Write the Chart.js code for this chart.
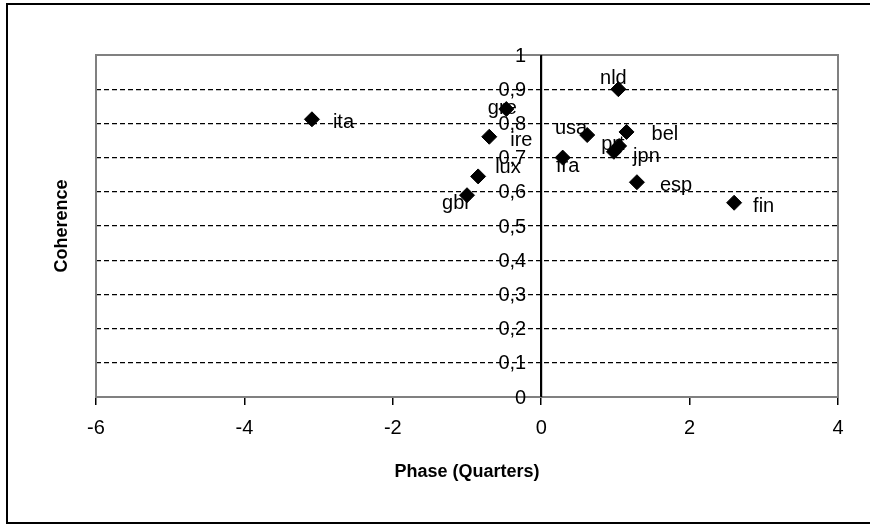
<!DOCTYPE html>
<html>
<head>
<meta charset="utf-8">
<script src="https://cdn.jsdelivr.net/npm/chart.js@4.4.1/dist/chart.umd.min.js"></script>
<style>
  body { margin: 0; background: #fff; }
  #wrap { position: relative; width: 870px; height: 524px; }
</style>
</head>
<body>
<div id="wrap"><canvas id="chart"></canvas></div>
<script>
// dados
const countries = ['ita', 'gre', 'ire', 'lux', 'gbr', 'fra', 'usa', 'nld', 'bel', 'prt', 'jpn', 'esp', 'fin'];
const phase = [-3.09, -0.47, -0.7, -0.85, -1.0, 0.29, 0.62, 1.04, 1.15, 0.98, 1.05, 1.29, 2.6];
const coherence = [0.812, 0.842, 0.761, 0.645, 0.59, 0.70, 0.766, 0.90, 0.775, 0.717, 0.734, 0.628, 0.568];
const xTitle = 'Phase (Quarters)';
const yTitle = 'Coherence';

const fontFamily = '"Liberation Sans", Arial, sans-serif';

// onde cada rótulo fica em relação ao ponto
const labelPlacement = {
    ita: { dx: 21, dy: 3, align: 'left' },
    gre: { dx: -4, dy: -1, align: 'center' },
    ire: { dx: 21, dy: 4, align: 'left' },
    lux: { dx: 17, dy: -9, align: 'left' },
    gbr: { dx: 4, dy: 8, align: 'right' },
    fra: { dx: 5, dy: 9, align: 'center' },
    usa: { dx: 0, dy: -7, align: 'right' },
    nld: { dx: -5, dy: -11, align: 'center' },
    bel: { dx: 25, dy: 3, align: 'left' },
    prt: { dx: -1, dy: -7, align: 'center' },
    jpn: { dx: 14, dy: 11, align: 'left' },
    esp: { dx: 23, dy: 3, align: 'left' },
    fin: { dx: 19, dy: 4, align: 'left' }
};

const points = phase.map((p, i) => ({ x: p, y: coherence[i] }));

function formatTick(v) {
    return String(Math.round(v * 10) / 10).replace('.', ',');
}

// moldura externa, borda cinza da área, rótulos do eixo y e títulos
const framePlugin = {
    id: 'frame',
    beforeDraw(chart) {
        const ctx = chart.ctx;
        ctx.save();
        ctx.fillStyle = '#fff';
        ctx.fillRect(0, 0, chart.width, chart.height);
        ctx.restore();
    },
    beforeDatasetsDraw(chart) {
        const ctx = chart.ctx;
        const a = chart.chartArea;
        const xs = chart.scales.x;
        const ys = chart.scales.y;
        ctx.save();
        ctx.strokeStyle = '#808080';
        ctx.lineWidth = 2;
        ctx.strokeRect(a.left, a.top, a.right - a.left, a.bottom - a.top);

        // eixo y desenhado de novo por cima da borda
        const x0 = xs.getPixelForValue(0);
        ctx.strokeStyle = '#000';
        ctx.beginPath();
        ctx.moveTo(x0, a.top);
        ctx.lineTo(x0, a.bottom);
        ctx.stroke();

        ctx.fillStyle = '#000';
        ctx.font = '20px ' + fontFamily;
        ctx.textAlign = 'right';
        ctx.textBaseline = 'middle';
        ys.ticks.forEach(t => {
            ctx.fillText(formatTick(t.value), x0 - 15, ys.getPixelForValue(t.value) + 1);
        });
        ctx.restore();
    },
    afterDraw(chart) {
        const ctx = chart.ctx;
        const a = chart.chartArea;
        ctx.save();
        ctx.strokeStyle = '#000';
        ctx.lineWidth = 2;
        ctx.strokeRect(7, 4, chart.width + 10, 519);

        ctx.fillStyle = '#000';
        ctx.font = 'bold 18px ' + fontFamily;
        ctx.textAlign = 'center';
        ctx.textBaseline = 'middle';
        ctx.fillText(xTitle, (a.left + a.right) / 2, 472);
        ctx.translate(62, (a.top + a.bottom) / 2);
        ctx.rotate(-Math.PI / 2);
        ctx.fillText(yTitle, 0, 0);
        ctx.restore();
    }
};

const labelPlugin = {
    id: 'pointLabels',
    afterDatasetsDraw(chart) {
        const ctx = chart.ctx;
        const meta = chart.getDatasetMeta(0);
        ctx.save();
        ctx.fillStyle = '#000';
        ctx.font = '20px ' + fontFamily;
        ctx.textBaseline = 'middle';
        meta.data.forEach((el, i) => {
            const name = countries[i];
            const pl = labelPlacement[name];
            ctx.textAlign = pl.align;
            ctx.fillText(name, el.x + pl.dx, el.y + pl.dy);
        });
        ctx.restore();
    }
};

const ctx = document.getElementById('chart').getContext('2d');
new Chart(ctx, {
    type: 'scatter',
    data: {
        datasets: [{
            label: yTitle,
            data: points,
            pointStyle: 'rectRot',
            pointRadius: 7.5,
            pointHoverRadius: 7.5,
            backgroundColor: '#000',
            borderColor: '#000',
            borderWidth: 1
        }]
    },
    options: {
        responsive: true,
        maintainAspectRatio: false,
        animation: false,
        layout: { padding: { left: 96, right: 32, top: 55, bottom: 127 } },
        plugins: {
            legend: { display: false },
            tooltip: { enabled: false }
        },
        scales: {
            x: {
                type: 'linear',
                min: -6,
                max: 4,
                position: { y: 0 },
                ticks: {
                    stepSize: 2,
                    color: '#000',
                    padding: 12,
                    font: { family: fontFamily, size: 20 }
                },
                grid: {
                    drawOnChartArea: false,
                    drawTicks: true,
                    tickLength: 7,
                    color: '#000',
                    lineWidth: 1.5
                },
                border: { color: '#000', width: 2 }
            },
            y: {
                type: 'linear',
                min: 0,
                max: 1,
                position: { x: 0 },
                ticks: {
                    stepSize: 0.1,
                    display: false
                },
                grid: {
                    drawTicks: false,
                    lineWidth: 1.3,
                    color: (c) => {
                        const v = c.tick ? Math.round(c.tick.value * 10) / 10 : null;
                        return (v === 0 || v === 1) ? 'rgba(0,0,0,0)' : '#000';
                    }
                },
                border: { color: '#000', width: 2, dash: [5, 3] }
            }
        }
    },
    plugins: [framePlugin, labelPlugin]
});
</script>
</body>
</html>
